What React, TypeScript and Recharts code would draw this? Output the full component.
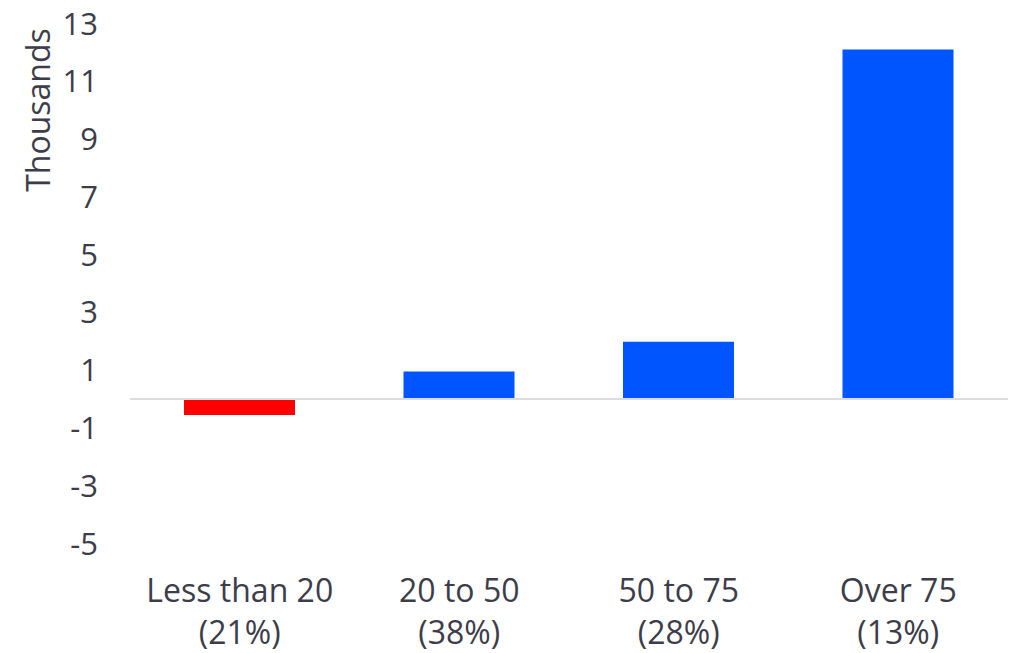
import { Bar, BarChart, Cell, ReferenceLine, XAxis, YAxis } from 'recharts'

const categories = ['Less than 20', '20 to 50', '50 to 75', 'Over 75']
const shares = ['(21%)', '(38%)', '(28%)', '(13%)']
const values = [-0.55, 0.95, 1.98, 12.1]
const yTicks = [-5, -3, -1, 1, 3, 5, 7, 9, 11, 13]

const font = '"Open Sans", sans-serif'
const ink = '#3d3d4a'

const data = categories.map((name, i) => ({ name, share: shares[i], value: values[i] }))

function CategoryTick({ x, y, payload, index }: any) {
  return (
    <g transform={`translate(${x},${y})`}>
      <text textAnchor="middle" fill={ink} fontSize={32} fontFamily={font}>
        <tspan x={0} dy={58}>{payload.value}</tspan>
        <tspan x={0} dy={42}>{shares[index]}</tspan>
      </text>
    </g>
  )
}

export default function App() {
  return (
    <div style={{ position: 'absolute', left: 0, top: 0, background: '#fff' }}>
      <BarChart
        width={1013}
        height={653}
        data={data}
        margin={{ top: 23.5, right: 5, bottom: 0, left: 0 }}
      >
        <text
          x={37}
          y={110}
          transform="rotate(-90 37 110)"
          textAnchor="middle"
          dominantBaseline="central"
          fill={ink}
          fontSize={32}
          fontFamily={font}
        >
          Thousands
        </text>
        <XAxis
          dataKey="name"
          height={109.5}
          axisLine={false}
          tickLine={false}
          tickSize={0}
          tickMargin={0}
          interval={0}
          tick={<CategoryTick />}
        />
        <YAxis
          width={130}
          domain={[-5, 13]}
          ticks={yTicks}
          axisLine={false}
          tickLine={false}
          tickSize={0}
          tickMargin={32}
          tick={{ fontSize: 31, fill: ink, fontFamily: font }}
        />
        <ReferenceLine y={0} stroke="#dcdcdc" strokeWidth={2} />
        <Bar dataKey="value" barSize={111} isAnimationActive={false}>
          {data.map((d) => (
            <Cell key={d.name} fill={d.value < 0 ? '#ff0000' : '#0055ff'} />
          ))}
        </Bar>
      </BarChart>
    </div>
  )
}
